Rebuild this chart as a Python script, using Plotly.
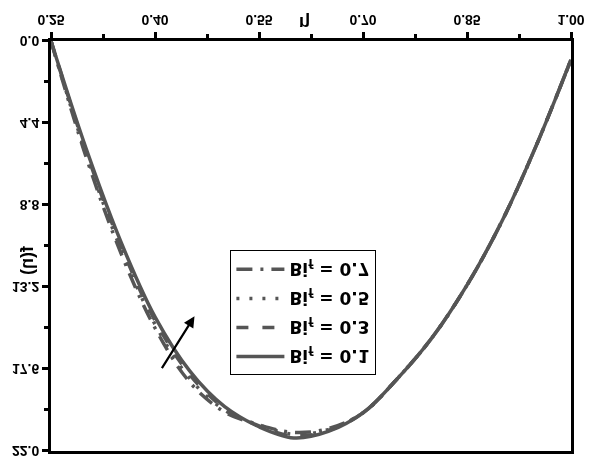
import plotly.graph_objects as go

eta = [0.25, 0.30, 0.35, 0.40, 0.45, 0.50, 0.55, 0.60, 0.65, 0.70, 0.75, 0.80, 0.85, 0.90, 0.95, 1.00]
f_bi01 = [0.0, 5.7, 10.7, 14.8, 17.7, 19.6, 20.7, 21.3, 20.95, 19.95, 18.1, 15.9, 13.1, 9.7, 5.6, 1.0]
f_bi03 = [0.0, 5.85, 10.9, 15.0, 17.9, 19.7, 20.65, 21.2, 20.9, 19.95, 18.1, 15.9, 13.1, 9.7, 5.6, 1.0]
f_bi05 = [0.0, 6.0, 11.1, 15.2, 18.1, 19.8, 20.6, 21.1, 20.85, 19.95, 18.1, 15.9, 13.1, 9.7, 5.6, 1.0]
f_bi07 = [0.0, 6.15, 11.3, 15.4, 18.3, 19.9, 20.6, 21.0, 20.8, 19.95, 18.1, 15.9, 13.1, 9.7, 5.6, 1.0]
series_names = ["Bi<sub>f</sub> = 0.1", "Bi<sub>f</sub> = 0.3", "Bi<sub>f</sub> = 0.5", "Bi<sub>f</sub> = 0.7"]
x_ticks = [0.25, 0.40, 0.55, 0.70, 0.85, 1.00]
y_ticks = [0.0, 4.4, 8.8, 13.2, 17.6, 22.0]

FONT = "Arial, Liberation Sans, sans-serif"
LFONT = "DejaVu Sans, sans-serif"
color = "#555555"
dashes = ["solid", "12px,14px", "3px,10px", "16px,8px,3px,8px"]

fig = go.Figure()
for i, (ys, name, d) in enumerate(zip([f_bi01, f_bi03, f_bi05, f_bi07], series_names, dashes)):
    fig.add_trace(go.Scatter(x=eta, y=ys, mode="lines", name=name, legendgroup=f"g{i}",
                             line=dict(color=color, width=3.5, dash=d, shape="spline", smoothing=1.0)))

axis_common = dict(showline=True, linecolor="black", linewidth=3, mirror=True,
                   ticks="outside", ticklen=6, tickwidth=3, tickcolor="black",
                   showgrid=False, zeroline=False,
                   tickfont=dict(family=FONT, size=14, color="black", weight="bold"))

fig.update_xaxes(range=[0.25, 1.0], tickvals=x_ticks, tickformat=".2f",
                 minor=dict(ticks="outside", ticklen=4, tickwidth=2.5, tickcolor="black", dtick=0.075, tick0=0.25),
                 **axis_common)
fig.update_yaxes(range=[0, 22.0], tickvals=y_ticks, tickformat=".1f",
                 minor=dict(ticks="outside", ticklen=4, tickwidth=2.5, tickcolor="black", dtick=2.2, tick0=0),
                 **axis_common)

fig.add_annotation(x=0.616, y=-0.045, xref="x", yref="paper", text="η", showarrow=False,
                   font=dict(family=FONT, size=18, color="black", weight="bold"), yanchor="middle")
fig.add_annotation(x=-0.046, y=11.75, xref="paper", yref="y", text="f(η)", showarrow=False,
                   textangle=-90, font=dict(family=FONT, size=18, color="black", weight="bold"),
                   xanchor="center", yanchor="middle")
fig.add_annotation(x=0.457, y=14.77, ax=0.4086, ay=17.63, xref="x", yref="y", axref="x", ayref="y",
                   text="", showarrow=True, arrowhead=2, arrowsize=1, arrowwidth=2.2, arrowcolor="black")

fig.update_layout(
    width=597, height=471,
    margin=dict(l=51, r=21, t=14, b=34),
    paper_bgcolor="white", plot_bgcolor="white",
    legend=dict(x=0.345, y=0.815, xanchor="left", yanchor="top",
                bordercolor="black", borderwidth=1, bgcolor="white",
                font=dict(family=LFONT, size=17, color="black", weight="bold"),
                itemwidth=48, tracegroupgap=4),
)

post = ("var d=document.getElementById('{plot_id}');"
        "d.style.position='fixed';d.style.left='0px';d.style.top='0px';"
        "d.style.transform='scaleY(-1)';"
        "document.body.style.margin='0';")
fig.write_html("out.html", post_script=post, config={"displayModeBar": False})
